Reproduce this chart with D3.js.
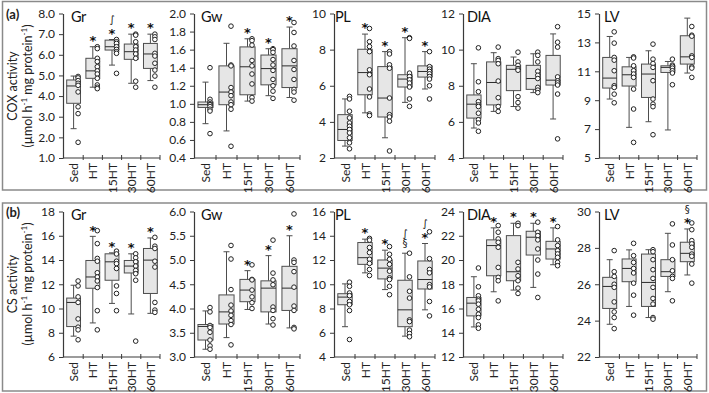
<!DOCTYPE html>
<html>
<head>
<meta charset="utf-8">
<script src="https://cdn.jsdelivr.net/npm/d3@7"></script>
<style>
  body { margin: 0; background: #fff; }
  svg { display: block; font-family: Lato, "Open Sans", sans-serif; }
</style>
</head>
<body>
<div id="chart"></div>
<script>
const groups = ["Sed", "HT", "15HT", "30HT", "60HT"];
const tissues = ["Gr", "Gw", "PL", "DIA", "LV"];

// box stats per group: [whisker low, q1, median, q3, whisker high]
const coxGrBox = [[2.42, 3.65, 4.49, 4.78, 4.97], [4.43, 4.86, 5.22, 5.83, 6.39], [5.5, 6.23, 6.39, 6.71, 6.74], [4.62, 5.78, 6.15, 6.52, 7.0], [4.75, 5.34, 6.04, 6.55, 7.0]];
const coxGwBox = [[0.78, 0.96, 0.99, 1.02, 1.24], [0.70, 0.99, 1.13, 1.42, 1.67], [1.03, 1.10, 1.41, 1.63, 1.72], [1.09, 1.21, 1.39, 1.54, 1.61], [1.07, 1.18, 1.42, 1.61, 1.85]];
const coxPLBox = [[2.66, 2.97, 3.58, 4.40, 5.27], [4.50, 5.50, 6.73, 8.02, 8.86], [3.12, 4.27, 5.32, 7.06, 7.89], [5.08, 5.93, 6.37, 6.61, 8.66], [5.82, 6.48, 6.79, 7.10, 7.89]];
const coxDIABox = [[5.66, 6.21, 6.98, 7.49, 9.22], [6.58, 6.94, 8.18, 9.32, 9.83], [6.85, 7.73, 8.91, 9.13, 9.59], [7.62, 7.80, 8.40, 9.13, 9.77], [6.16, 8.04, 8.31, 9.68, 10.87]];
const coxLVBox = [[9.08, 9.84, 10.53, 11.96, 13.41], [7.12, 9.98, 10.76, 11.31, 11.96], [7.51, 9.19, 10.81, 11.50, 12.42], [6.94, 10.92, 11.27, 11.38, 11.68], [10.88, 11.50, 12.0, 13.46, 14.68]];

const csGrBox = [[7.72, 8.51, 10.5, 10.86, 11.92], [8.81, 11.67, 12.6, 13.96, 15.95], [10.42, 12.33, 13.85, 14.51, 14.59], [9.55, 12.93, 13.5, 13.96, 14.51], [9.6, 11.24, 13.99, 14.95, 15.82]];
const csGwBox = [[3.16, 3.35, 3.63, 3.67, 3.95], [3.40, 3.68, 3.93, 4.28, 5.17], [3.98, 4.14, 4.38, 4.60, 4.78], [3.68, 3.93, 4.42, 4.57, 5.09], [3.60, 3.96, 4.42, 4.87, 5.50]];
const csPLBox = [[6.5, 8.31, 8.94, 9.22, 10.03], [10.94, 11.64, 12.19, 13.44, 13.72], [9.56, 10.44, 11.33, 12.0, 12.81], [5.72, 6.5, 7.89, 10.33, 12.56], [7.89, 9.61, 10.39, 11.92, 13.36]];
const csDIABox = [[14.48, 15.39, 16.44, 16.91, 18.62], [17.38, 18.70, 21.19, 21.66, 22.65], [17.52, 18.29, 19.03, 22.01, 23.03], [17.74, 20.41, 21.88, 22.37, 23.03], [19.61, 20.08, 20.91, 21.54, 22.65]];
const csLVBox = [[23.80, 24.67, 25.88, 26.38, 27.35], [24.78, 26.14, 26.87, 27.39, 27.89], [24.17, 24.78, 26.10, 27.66, 27.9], [25.59, 26.43, 26.69, 27.35, 28.8], [26.51, 27.24, 27.70, 28.31, 29.04]];

// individual animals per group
const coxGrPts = [[4.95, 4.88, 4.75, 4.62, 4.52, 4.2, 3.48, 3.15, 1.76], [6.39, 6.3, 5.83, 5.67, 5.42, 5.22, 5.07, 4.86, 4.54, 4.43, 4.36], [6.74, 6.63, 6.55, 6.39, 6.26, 6.15, 6.07, 5.1], [7.0, 6.95, 6.63, 6.39, 6.23, 6.04, 5.83, 4.72, 4.43], [7.0, 6.87, 6.74, 6.07, 5.94, 5.59, 5.26, 4.97, 4.43]];
const coxGwPts = [[1.40, 1.05, 1.02, 1.0, 0.99, 0.97, 0.94, 0.92, 0.67], [1.86, 1.43, 1.42, 1.18, 1.13, 1.09, 1.02, 0.99, 0.94, 0.53], [1.72, 1.70, 1.65, 1.48, 1.42, 1.33, 1.22, 1.07, 1.03], [1.61, 1.60, 1.57, 1.49, 1.43, 1.37, 1.27, 1.20, 1.14, 1.06], [1.90, 1.79, 1.64, 1.48, 1.38, 1.27, 1.16, 1.13, 1.04]];
const coxPLPts = [[5.41, 5.27, 4.59, 4.22, 3.94, 3.76, 3.58, 3.39, 3.12, 2.84, 2.51], [9.17, 8.44, 8.17, 7.89, 6.88, 6.61, 5.82, 5.38, 4.44, 4.35], [7.89, 7.76, 7.16, 6.97, 5.32, 4.40, 4.27, 4.04, 2.39], [8.66, 8.62, 6.70, 6.51, 6.33, 6.15, 5.93, 5.27, 4.86], [7.89, 7.06, 6.92, 6.79, 6.66, 6.51, 6.37, 6.0, 5.27]];
const coxDIAPts = [[10.1, 8.22, 7.67, 7.12, 6.94, 6.85, 6.48, 6.12, 5.94, 5.48], [10.14, 9.50, 9.40, 9.22, 8.26, 7.34, 6.85, 6.58], [9.86, 9.32, 9.13, 8.95, 8.86, 7.40, 7.07, 6.76], [9.86, 9.68, 9.32, 8.80, 8.58, 8.40, 7.91, 7.76, 7.62], [11.27, 10.41, 10.14, 8.49, 8.27, 8.16, 8.04, 7.54, 5.06]];
const coxLVPts = [[13.73, 12.95, 11.96, 11.77, 11.04, 10.0, 9.88, 9.42, 8.82], [12.0, 11.92, 11.38, 11.04, 10.81, 10.58, 9.77, 8.39, 6.08], [12.88, 11.84, 11.54, 11.27, 10.35, 9.08, 8.73, 8.55, 6.61], [11.84, 11.43, 11.35, 11.22, 11.04, 10.88, 10.07], [14.1, 13.5, 13.43, 12.07, 11.96, 11.31, 11.22, 10.58]];

const csGrPts = [[12.27, 11.86, 10.96, 10.5, 9.14, 8.46, 8.24, 7.42], [16.42, 15.35, 14.13, 13.9, 12.95, 12.6, 12.27, 11.73, 9.82, 8.24], [14.73, 14.5, 13.9, 13.7, 13.3, 11.86, 11.24, 9.82], [14.51, 14.18, 13.85, 13.5, 13.14, 12.87, 12.33, 7.31], [15.87, 15.14, 14.95, 13.9, 13.42, 10.5, 9.87, 9.68]];
const csGwPts = [[4.02, 3.93, 3.65, 3.61, 3.51, 3.35, 3.23, 3.16], [5.30, 5.02, 4.39, 4.07, 3.95, 3.86, 3.75, 3.67, 3.25], [4.90, 4.60, 4.59, 4.38, 4.24, 4.12, 4.0], [5.41, 4.73, 4.59, 4.49, 4.03, 3.96, 3.79, 3.66], [5.95, 5.0, 4.95, 4.76, 4.44, 4.05, 3.96, 3.61, 3.58]];
const csPLPts = [[10.17, 9.83, 9.28, 9.06, 8.58, 8.31, 7.83, 5.44], [13.78, 13.64, 13.03, 12.61, 12.06, 11.72, 11.22, 10.72], [13.11, 12.47, 12.06, 11.64, 11.08, 10.53, 10.39, 9.83, 9.14], [12.56, 10.61, 9.42, 8.86, 7.06, 6.92, 6.22, 5.94, 5.67], [14.33, 12.11, 11.22, 10.94, 9.97, 9.78, 8.58, 7.39]];
const csDIAPts = [[19.34, 17.79, 17.05, 16.77, 16.63, 16.36, 15.94, 15.53, 15.25, 14.65, 14.37], [22.84, 22.29, 21.74, 21.46, 21.05, 19.39, 18.57, 18.29, 16.63], [23.03, 22.84, 19.81, 19.26, 18.70, 18.29, 17.68, 17.24], [23.12, 22.29, 22.01, 21.66, 20.91, 20.0, 18.84, 16.91], [22.76, 21.66, 21.19, 20.77, 20.5, 20.22, 19.81, 19.53]];
const csLVPts = [[27.85, 26.69, 26.43, 26.0, 25.83, 25.03, 24.48, 24.17, 23.56], [28.25, 27.57, 27.20, 26.87, 26.62, 26.06, 25.40, 24.30], [27.9, 27.79, 27.35, 26.8, 26.32, 25.83, 25.22, 24.91, 24.17, 24.08], [29.32, 28.16, 27.35, 26.74, 26.43, 26.32, 25.09], [29.37, 29.0, 28.40, 28.22, 28.03, 27.66, 27.54, 27.11, 26.06]];

// significance symbols over each group, bottom to top
const coxMarks = [
  [[], ["*"], ["*", "∫"], ["*"], ["*"]],
  [[], [], ["*"], ["*"], ["*"]],
  [[], ["*"], ["*"], ["*"], ["*"]],
  [[], [], [], [], []],
  [[], [], [], [], []]
];
const csMarks = [
  [[], ["*"], ["*"], ["*"], ["*"]],
  [[], [], ["*"], ["*"], ["*"]],
  [[], ["*"], ["*"], ["§", "∫"], ["*", "∫"]],
  [[], ["*"], ["*"], ["*"], ["*"]],
  [[], [], [], [], ["*", "§"]]
];

// y tick values
const coxTicks = [[1, 2, 3, 4, 5, 6, 7, 8], [0.4, 0.6, 0.8, 1.0, 1.2, 1.4, 1.6, 1.8, 2.0], [2, 4, 6, 8, 10], [4, 6, 8, 10, 12], [5, 7, 9, 11, 13, 15]];
const csTicks = [[6, 8, 10, 12, 14, 16, 18], [3.0, 3.5, 4.0, 4.5, 5.0, 5.5, 6.0], [4, 6, 8, 10, 12, 14, 16], [12, 14, 16, 18, 20, 22, 24], [22, 24, 26, 28, 30]];
const coxDecimals = [1, 1, 0, 0, 0];
const csDecimals = [0, 1, 0, 0, 0];

//size / layout
const width = 709;
const height = 393;
const cols = [
  { x0: 64, x1: 160, tx: 71 },
  { x0: 195, x1: 300, tx: 201 },
  { x0: 335, x1: 435, tx: 335 },
  { x0: 464, x1: 563, tx: 467 },
  { x0: 600, x1: 697, tx: 604 }
];
const rows = [
  { top: 13.5, bottom: 158, frame: [2.5, 1.5, 704, 188.5], tag: "(a)", lab: "COX activity", mid: 86,
    box: [coxGrBox, coxGwBox, coxPLBox, coxDIABox, coxLVBox],
    pts: [coxGrPts, coxGwPts, coxPLPts, coxDIAPts, coxLVPts],
    marks: coxMarks, ticks: coxTicks, dec: coxDecimals },
  { top: 211.5, bottom: 357, frame: [2.5, 203, 704, 188], tag: "(b)", lab: "CS activity", mid: 284,
    box: [csGrBox, csGwBox, csPLBox, csDIABox, csLVBox],
    pts: [csGrPts, csGwPts, csPLPts, csDIAPts, csLVPts],
    marks: csMarks, ticks: csTicks, dec: csDecimals }
];

const axisColor = "#3a3a3a";
const boxStroke = "#4d4d4d";

const svg = d3.select("#chart")
  .append("svg")
  .attr("width", width)
  .attr("height", height);

rows.forEach((row) => {
  const [fx, fy, fw, fh] = row.frame;
  svg.append("rect")
    .attr("x", fx).attr("y", fy).attr("width", fw).attr("height", fh)
    .attr("fill", "none").attr("stroke", "#8a8a8a").attr("stroke-width", 1.5);

  svg.append("text")
    .attr("x", 6).attr("y", row.top + 5)
    .attr("font-size", 13).attr("font-weight", "bold").attr("fill", "#222")
    .text(row.tag);

  // y label, two lines
  const yl = svg.append("g").attr("fill", "#222").attr("font-size", 12.5).attr("text-anchor", "middle");
  yl.append("text")
    .attr("transform", `translate(17,${row.mid}) rotate(-90)`)
    .text(row.lab);
  const t2 = yl.append("text")
    .attr("transform", `translate(32,${row.mid}) rotate(-90)`);
  t2.append("tspan").text("(µmol h");
  t2.append("tspan").attr("font-size", 8).attr("dy", -5).text("-1");
  t2.append("tspan").attr("dy", 5).text(" mg protein");
  t2.append("tspan").attr("font-size", 8).attr("dy", -5).text("-1");
  t2.append("tspan").attr("dy", 5).text(")");

  tissues.forEach((tissue, k) => {
    drawPanel(cols[k], row, tissue, row.box[k], row.pts[k], row.marks[k], row.ticks[k], row.dec[k]);
  });
});

function drawPanel(col, row, title, box, pts, marks, ticks, dec) {
  const xScale = d3.scaleBand().domain(groups).range([col.x0, col.x1]);
  const yScale = d3.scaleLinear()
    .domain([ticks[0], ticks[ticks.length - 1]])
    .range([row.bottom, row.top]);

  const g = svg.append("g");

  // y axis
  g.append("g")
    .attr("transform", `translate(${col.x0 - 1},0)`)
    .call(d3.axisLeft(yScale).tickValues(ticks).tickSize(4).tickSizeOuter(0)
      .tickFormat(d3.format(`.${dec}f`)))
    .call((a) => {
      a.attr("font-family", null).attr("font-size", 12);
      a.select(".domain").attr("stroke", axisColor).attr("stroke-width", 1.2);
      a.selectAll(".tick line").attr("stroke", axisColor);
      a.selectAll("text").attr("x", -8).attr("fill", "#222");
    });

  // x axis
  g.append("line")
    .attr("x1", col.x0 - 1).attr("x2", col.x1)
    .attr("y1", row.bottom).attr("y2", row.bottom)
    .attr("stroke", axisColor).attr("stroke-width", 1.2);
  g.selectAll(".xtick")
    .data(groups.slice(1).map((d) => xScale(d)).concat([col.x1]))
    .join("line")
    .attr("x1", (d) => d).attr("x2", (d) => d)
    .attr("y1", row.bottom - 3).attr("y2", row.bottom + 2)
    .attr("stroke", axisColor);
  g.selectAll(".xlab")
    .data(groups)
    .join("text")
    .attr("transform", (d) => `translate(${xScale(d) + xScale.bandwidth() / 2 + 4.5},${row.bottom + 5}) rotate(-90)`)
    .attr("text-anchor", "end")
    .attr("font-size", 12)
    .attr("fill", "#222")
    .text((d) => d);

  // panel title
  g.append("text")
    .attr("x", col.tx).attr("y", row.top + 8)
    .attr("font-size", 14.5).attr("letter-spacing", -0.5).attr("fill", "#111")
    .text(title);

  const bw = xScale.bandwidth() * 0.72;
  const cx = (i) => xScale(groups[i]) + xScale.bandwidth() / 2;

  box.forEach((s, i) => {
    const [lo, q1, med, q3, hi] = s;
    const c = cx(i);
    const bg = g.append("g").attr("stroke", boxStroke).attr("stroke-width", 1);
    bg.append("line").attr("x1", c).attr("x2", c).attr("y1", yScale(hi)).attr("y2", yScale(q3));
    bg.append("line").attr("x1", c).attr("x2", c).attr("y1", yScale(q1)).attr("y2", yScale(lo));
    bg.append("line").attr("x1", c - 3).attr("x2", c + 3).attr("y1", yScale(hi)).attr("y2", yScale(hi));
    bg.append("line").attr("x1", c - 3).attr("x2", c + 3).attr("y1", yScale(lo)).attr("y2", yScale(lo));
    bg.append("rect")
      .attr("x", c - bw / 2).attr("width", bw)
      .attr("y", yScale(q3)).attr("height", yScale(q1) - yScale(q3))
      .attr("fill", "#e6e6e6");
    bg.append("line").attr("x1", c - bw / 2).attr("x2", c + bw / 2)
      .attr("y1", yScale(med)).attr("y2", yScale(med)).attr("stroke", "#2b2b2b");

    // animals
    g.selectAll(null)
      .data(pts[i])
      .join("circle")
      .attr("cx", c + 4.5)
      .attr("cy", (d) => yScale(d))
      .attr("r", 2.3)
      .attr("fill", "#fff")
      .attr("stroke", "#222")
      .attr("stroke-width", 1);

    // symbols stacked above the upper whisker
    const top = yScale(hi);
    marks[i].forEach((m, j) => {
      const isStar = m === "*";
      const centre = top - 9 - 10.5 * j;
      g.append("text")
        .attr("x", c)
        .attr("y", isStar ? centre + 7.2 : centre + 3.2)
        .attr("text-anchor", "middle")
        .attr("font-family", "'DejaVu Sans', sans-serif")
        .attr("font-size", isStar ? 13 : 10)
        .attr("font-weight", isStar ? "bold" : "normal")
        .attr("fill", "#111")
        .text(m);
    });
  });
}
</script>
</body>
</html>
